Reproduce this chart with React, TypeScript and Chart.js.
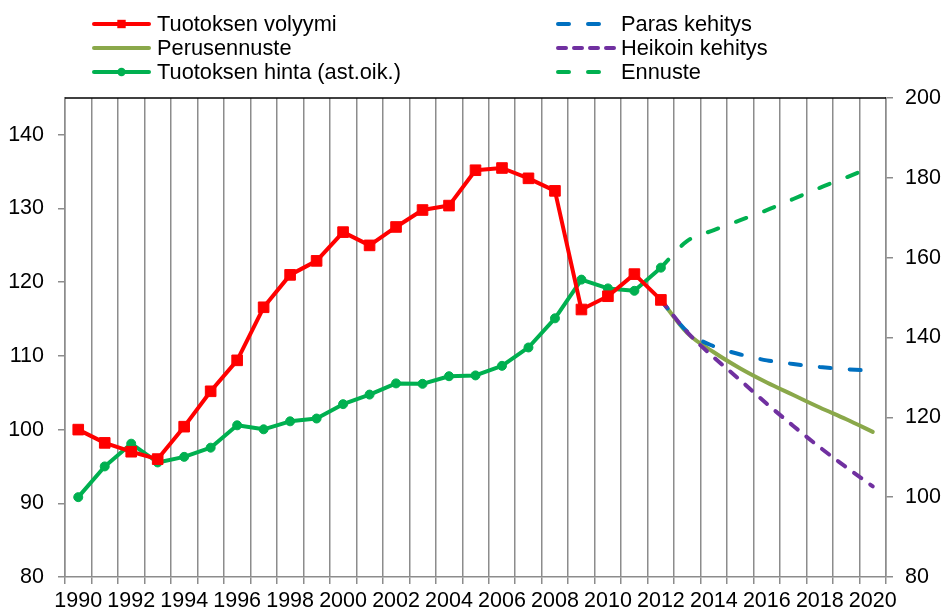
import React, { useEffect, useRef } from 'react';
import { Chart, registerables } from 'chart.js';

Chart.register(...registerables);

const years = [
  '1990', '1991', '1992', '1993', '1994', '1995', '1996', '1997', '1998', '1999',
  '2000', '2001', '2002', '2003', '2004', '2005', '2006', '2007', '2008', '2009',
  '2010', '2011', '2012', '2013', '2014', '2015', '2016', '2017', '2018', '2019', '2020',
];

// Tuotoksen volyymi (left axis)
const volume = [
  100.0, 98.2, 97.0, 96.0, 100.4, 105.2, 109.4, 116.6, 121.0, 122.9,
  126.8, 125.0, 127.5, 129.8, 130.4, 135.2, 135.5, 134.1, 132.4, 116.3,
  118.1, 121.1, 117.6, null, null, null, null, null, null, null, null,
];

// Perusennuste (left axis)
const baseForecast = [
  null, null, null, null, null, null, null, null, null, null,
  null, null, null, null, null, null, null, null, null, null,
  null, null, 117.6, 113.1, 110.5, 108.3, 106.4, 104.7, 103.0, 101.4, 99.7,
];

// Paras kehitys (left axis)
const bestCase = [
  null, null, null, null, null, null, null, null, null, null,
  null, null, null, null, null, null, null, null, null, null,
  null, null, 117.6, 113.3, 111.3, 110.2, 109.4, 108.9, 108.5, 108.2, 108.0,
];

// Heikoin kehitys (left axis)
const worstCase = [
  null, null, null, null, null, null, null, null, null, null,
  null, null, null, null, null, null, null, null, null, null,
  null, null, 117.6, 113.2, 109.8, 106.7, 103.5, 100.5, 97.6, 94.9, 92.3,
];

// Tuotoksen hinta (right axis)
const price = [
  100.0, 107.7, 113.4, 108.7, 110.1, 112.4, 118.0, 117.0, 119.0, 119.7,
  123.3, 125.7, 128.5, 128.4, 130.3, 130.5, 132.9, 137.5, 144.8, 154.5,
  152.3, 151.7, 157.5, null, null, null, null, null, null, null, null,
];

// Ennuste (right axis)
const priceForecast = [
  null, null, null, null, null, null, null, null, null, null,
  null, null, null, null, null, null, null, null, null, null,
  null, null, 157.5, 164.2, 166.9, 169.4, 171.9, 174.7, 177.5, 180.1, 182.8,
];

const leftTicks = { min: 80, max: 145, step: 10 };
const rightTicks = { min: 80, max: 200, step: 20 };

const FONT = 'Liberation Sans, Arial, sans-serif';
const GRID = '#8c8c8c';
const TICK_SIZE = 21.5;

const LEGEND_LAYOUT = [
  { label: 'Tuotoksen volyymi', x0: 92, x1: 151, tx: 157, y: 24 },
  { label: 'Perusennuste', x0: 92, x1: 151, tx: 157, y: 48 },
  { label: 'Tuotoksen hinta (ast.oik.)', x0: 92, x1: 151, tx: 157, y: 72 },
  { label: 'Paras kehitys', x0: 556, x1: 617, tx: 621, y: 24 },
  { label: 'Heikoin kehitys', x0: 556, x1: 617, tx: 621, y: 48 },
  { label: 'Ennuste', x0: 556, x1: 617, tx: 621, y: 72 },
];

const legendPlugin = {
  id: 'customLegend',
  afterDraw(chart: any) {
    const ctx = chart.ctx;
    LEGEND_LAYOUT.forEach((item) => {
      const ds: any = chart.data.datasets.find((d: any) => d.label === item.label);
      if (!ds) return;
      ctx.save();
      ctx.strokeStyle = ds.borderColor;
      ctx.lineWidth = 4;
      ctx.lineCap = 'round';
      ctx.setLineDash(ds.legendDash || ds.borderDash || []);
      ctx.beginPath();
      ctx.moveTo(item.x0 + 2, item.y);
      ctx.lineTo(item.x1 - 2, item.y);
      ctx.stroke();
      ctx.setLineDash([]);
      const cx = (item.x0 + item.x1) / 2;
      ctx.fillStyle = ds.borderColor;
      if (ds.pointRadius > 0) {
        if (ds.pointStyle === 'rect') {
          ctx.fillRect(cx - 4.2, item.y - 4.2, 8.4, 8.4);
        } else {
          ctx.beginPath();
          ctx.arc(cx, item.y, 4.2, 0, Math.PI * 2);
          ctx.fill();
        }
      }
      ctx.fillStyle = '#000';
      ctx.font = `21.8px ${FONT}`;
      ctx.textBaseline = 'middle';
      ctx.textAlign = 'left';
      ctx.fillText(item.label, item.tx, item.y + 1);
      ctx.restore();
    });
  },
};

const topBorderPlugin = {
  id: 'topBorder',
  beforeDatasetsDraw(chart: any) {
    const { ctx, chartArea } = chart;
    ctx.save();
    ctx.strokeStyle = '#000';
    ctx.lineWidth = 1.5;
    ctx.beginPath();
    ctx.moveTo(chartArea.left, chartArea.top);
    ctx.lineTo(chartArea.right, chartArea.top);
    ctx.stroke();
    ctx.restore();
  },
};

export default function App() {
  const ref = useRef<HTMLCanvasElement | null>(null);

  useEffect(() => {
    if (!ref.current) return;
    Chart.defaults.font.family = FONT;
    const chart = new Chart(ref.current, {
      type: 'line',
      data: {
        labels: years,
        datasets: [
          {
            label: 'Tuotoksen volyymi',
            data: volume,
            yAxisID: 'y',
            borderColor: '#ff0000',
            backgroundColor: '#ff0000',
            borderWidth: 4,
            pointStyle: 'rect',
            pointRadius: 7.5,
            pointBorderWidth: 1,
            borderJoinStyle: 'round',
            tension: 0,
          },
          {
            label: 'Tuotoksen hinta (ast.oik.)',
            data: price,
            yAxisID: 'y1',
            borderColor: '#00b050',
            backgroundColor: '#00b050',
            borderWidth: 4,
            pointStyle: 'circle',
            pointRadius: 4.5,
            pointBorderWidth: 1,
            borderJoinStyle: 'round',
            tension: 0,
          },
          {
            label: 'Heikoin kehitys',
            data: worstCase,
            yAxisID: 'y',
            borderColor: '#7030a0',
            backgroundColor: '#7030a0',
            borderWidth: 4,
            borderDash: [9, 11],
            legendDash: [8, 8],
            borderCapStyle: 'round',
            pointRadius: 0,
            cubicInterpolationMode: 'monotone',
          },
          {
            label: 'Paras kehitys',
            data: bestCase,
            yAxisID: 'y',
            borderColor: '#0070c0',
            backgroundColor: '#0070c0',
            borderWidth: 4,
            borderDash: [11, 19],
            borderCapStyle: 'round',
            pointRadius: 0,
            cubicInterpolationMode: 'monotone',
          },
          {
            label: 'Perusennuste',
            data: baseForecast,
            yAxisID: 'y',
            borderColor: '#8aa84a',
            backgroundColor: '#8aa84a',
            borderWidth: 4,
            borderCapStyle: 'round',
            pointRadius: 0,
            cubicInterpolationMode: 'monotone',
          },
          {
            label: 'Ennuste',
            data: priceForecast,
            yAxisID: 'y1',
            borderColor: '#00b050',
            backgroundColor: '#00b050',
            borderWidth: 4,
            borderDash: [11, 19],
            borderCapStyle: 'round',
            pointRadius: 0,
            cubicInterpolationMode: 'monotone',
          },
        ] as any,
      },
      options: {
        animation: false,
        responsive: false,
        maintainAspectRatio: false,
        events: [],
        layout: { padding: { top: 98, left: 0, right: 0, bottom: 0 } },
        plugins: {
          legend: { display: false },
          tooltip: { enabled: false },
        },
        scales: {
          x: {
            type: 'category',
            offset: true,
            afterFit: (s: any) => { s.height = 36; },
            grid: {
              offset: true,
              color: GRID,
              lineWidth: 1.5,
              tickLength: 7,
              tickColor: GRID,
              drawTicks: true,
            },
            border: { color: GRID, width: 1.5 },
            ticks: {
              autoSkip: false,
              maxRotation: 0,
              minRotation: 0,
              padding: 4,
              color: '#000',
              font: { size: TICK_SIZE, family: FONT },
              callback: (_v: any, i: number) => (i % 2 === 0 ? years[i] : ''),
            },
          },
          y: {
            type: 'linear',
            position: 'left',
            min: leftTicks.min,
            max: leftTicks.max,
            afterFit: (s: any) => { s.width = 65; },
            afterBuildTicks: (s: any) => {
              s.ticks = s.ticks.filter((t: any) => (t.value - leftTicks.min) % leftTicks.step === 0);
            },
            grid: {
              drawOnChartArea: false,
              drawTicks: true,
              tickLength: 7,
              tickColor: GRID,
              lineWidth: 1.5,
              color: GRID,
            },
            border: { color: GRID, width: 1.5 },
            ticks: {
              stepSize: leftTicks.step,
              padding: 14,
              color: '#000',
              font: { size: TICK_SIZE, family: FONT },
            },
          },
          y1: {
            type: 'linear',
            position: 'right',
            min: rightTicks.min,
            max: rightTicks.max,
            afterFit: (s: any) => { s.width = 58; },
            grid: {
              drawOnChartArea: false,
              drawTicks: true,
              tickLength: 7,
              tickColor: GRID,
              lineWidth: 1.5,
              color: GRID,
            },
            border: { color: GRID, width: 1.5 },
            ticks: {
              stepSize: rightTicks.step,
              padding: 12,
              color: '#000',
              font: { size: TICK_SIZE, family: FONT },
            },
          },
        },
      } as any,
      plugins: [legendPlugin, topBorderPlugin],
    });
    return () => chart.destroy();
  }, []);

  return (
    <div style={{ position: 'absolute', left: 0, top: 0, width: 944, height: 613, background: '#fff' }}>
      <canvas ref={ref} width={944} height={613} style={{ display: 'block' }} />
    </div>
  );
}
